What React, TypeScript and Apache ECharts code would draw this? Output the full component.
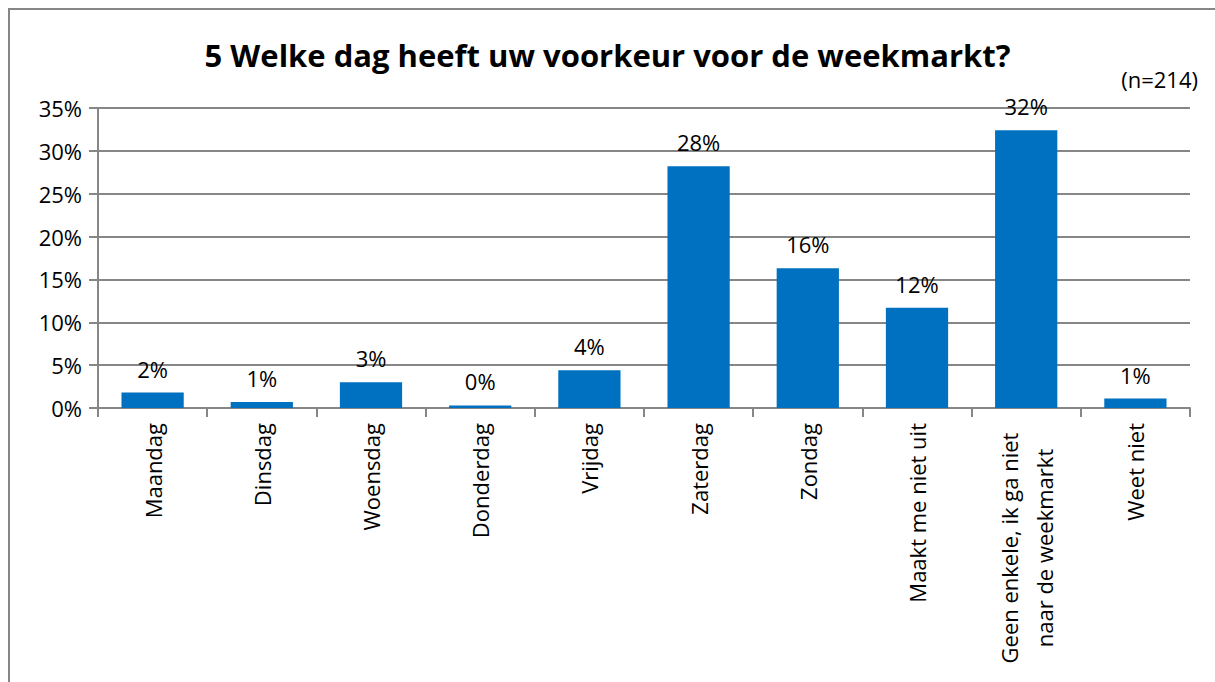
import React, { useEffect, useRef } from "react";
import * as echarts from "echarts";

const titleText = "5 Welke dag heeft uw voorkeur voor de weekmarkt?";
const noteText = "(n=214)";
const categories = [
  "Maandag",
  "Dinsdag",
  "Woensdag",
  "Donderdag",
  "Vrijdag",
  "Zaterdag",
  "Zondag",
  "Maakt me niet uit",
  "Geen enkele, ik ga niet\nnaar de weekmarkt",
  "Weet niet",
];
const values = [1.8, 0.7, 3.0, 0.3, 4.4, 28.2, 16.3, 11.7, 32.4, 1.1];
const yTicks = [0, 5, 10, 15, 20, 25, 30, 35];

const FONT = "'Open Sans', sans-serif";
const GRID = "#868686";
const FS = 22;

export default function App() {
  const ref = useRef<HTMLDivElement>(null);
  useEffect(() => {
    if (!ref.current) return;
    const chart = echarts.init(ref.current, null, { renderer: "svg" });
    chart.setOption({
      animation: false,
      backgroundColor: "#ffffff",
      title: {
        text: titleText,
        left: "center",
        top: 34,
        textStyle: {
          fontFamily: FONT,
          fontWeight: "bold",
          fontSize: 31,
          color: "#000",
        },
      },
      graphic: [
        {
          type: "rect",
          shape: { x: 9, y: 9, width: 1260, height: 720 },
          style: { fill: "none", stroke: GRID, lineWidth: 2 },
          silent: true,
        },
        {
          type: "text",
          right: 17,
          top: 68,
          style: {
            text: noteText,
            fontFamily: FONT,
            fontSize: FS,
            fill: "#000",
          },
        },
      ],
      grid: { left: 98, right: 25, top: 108, bottom: 274 },
      xAxis: {
        type: "category",
        data: categories,
        boundaryGap: true,
        axisLine: { lineStyle: { color: GRID, width: 2 } },
        axisTick: { show: true, length: 9, lineStyle: { color: GRID, width: 2 } },
        axisLabel: {
          interval: 0,
          rotate: 90,
          margin: 15,
          fontFamily: FONT,
          fontSize: FS,
          color: "#000",
          lineHeight: 35,
          formatter: (v: string) => {
            if (v.indexOf("\n") >= 0) {
              return v
                .split("\n")
                .map((s) => "{c|" + s + "}")
                .join("\n");
            }
            return v;
          },
          rich: {
            c: {
              width: 250,
              align: "center",
              fontFamily: FONT,
              fontSize: FS,
              color: "#000",
              lineHeight: 35,
            },
          },
        },
      },
      yAxis: {
        type: "value",
        min: yTicks[0],
        max: yTicks[yTicks.length - 1],
        interval: 5,
        axisLine: { show: true, lineStyle: { color: GRID, width: 2 } },
        axisTick: { show: true, length: 9, lineStyle: { color: GRID, width: 2 } },
        splitLine: { show: true, lineStyle: { color: GRID, width: 2 } },
        axisLabel: {
          formatter: "{value}%",
          fontFamily: FONT,
          fontSize: FS,
          color: "#000",
          margin: 16,
        },
      },
      series: [
        {
          type: "bar",
          data: values,
          barWidth: "57%",
          itemStyle: { color: "#0070C0" },
          label: {
            show: true,
            position: "top",
            distance: 13,
            fontFamily: FONT,
            fontSize: FS,
            color: "#000",
            formatter: (p: any) => Math.round(p.value) + "%",
          },
        },
      ],
    });
    return () => chart.dispose();
  }, []);
  return (
    <div
      ref={ref}
      style={{ position: "fixed", left: 0, top: 0, width: 1215, height: 682 }}
    />
  );
}
